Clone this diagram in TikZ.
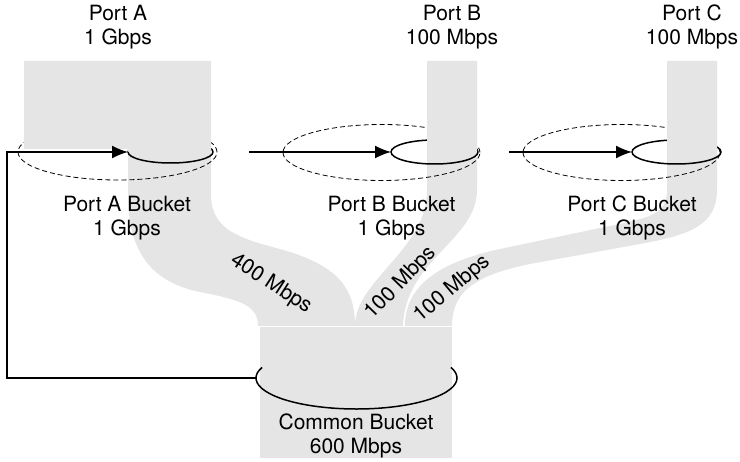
\documentclass[tikz,border=0pt]{standalone}
\usepackage{fontspec}
\setmainfont{TeX Gyre Heros}
\usepackage{tikz}
\usetikzlibrary{arrows.meta}
\tikzstyle{flow}       = [fill=black!10]
\tikzstyle{rim}        = [draw,line width=1.5]
\tikzstyle{outer rim}  = [draw,line width=0.8,dash pattern=on 5pt off 3pt]
\tikzstyle{label text} = [align=center,inner sep=0,font=\fontsize{21}{24}\selectfont]

\begin{document}
\begin{tikzpicture}[x=1pt,y=-1pt,
                    arrow/.style={line width=1.5,-{Latex[length=16pt,width=13pt]}}
                    ]
\useasboundingbox (0,0) rectangle (740,462);

    \coordinate (rimA) at (128,152);
    \coordinate (rimB) at (391,152);
    \coordinate (rimC) at (632,152);
    \coordinate (rimCommon) at (256,378);
    \coordinate (srcB) at (249,152);
    \coordinate (srcC) at (509,152);
    \coordinate (loop) at (7,152);

    % back halves of the buckets
    \draw[outer rim] (217,152) arc[start angle=0,end angle=-180,x radius=99.5,y radius=28];
    \draw[outer rim] (480,152.5) arc[start angle=0,end angle=-180,x radius=98.5,y radius=28];
    \draw[outer rim] (720,152.5) arc[start angle=0,end angle=-180,x radius=98.5,y radius=28];
    \draw[rim] (213,152) arc[start angle=0,end angle=-180,x radius=42.5,y radius=11];
    \draw[rim] (478,152) arc[start angle=0,end angle=-180,x radius=43.5,y radius=12];
    \draw[rim] (721,152) arc[start angle=0,end angle=-180,x radius=44.5,y radius=12];

    % traffic
    \fill[flow] (24,61) -- (211,61) -- (211,195) .. controls (211,235) and (250,240) .. (290,252)
        .. controls (340,268) and (355,290) .. (355,326) -- (258,326)
        .. controls (258,305) and (240,300) .. (200,292) .. controls (150,282) and (128,250) .. (128,195)
        -- (128,149) -- (24,149) -- cycle;
    \fill[flow] (427,61) -- (477,61) -- (477,190) .. controls (477,240) and (405,260) .. (403,326)
        -- (355,326) .. controls (355,280) and (427,250) .. (427,190) -- cycle;
    \fill[flow] (667,61) -- (717,61) -- (717,190) .. controls (717,225) and (690,235) .. (640,244)
        -- (530,264) .. controls (470,276) and (452,295) .. (452,326) -- (405,326)
        .. controls (405,285) and (440,262) .. (500,249) -- (600,228)
        .. controls (650,218) and (667,215) .. (667,190) -- cycle;
    \fill[flow] (260,327) rectangle (452,458);

    % front halves
    \draw[outer rim] (18,152) arc[start angle=180,end angle=0,x radius=99.5,y radius=28];
    \draw[outer rim] (283,152.5) arc[start angle=180,end angle=0,x radius=98.5,y radius=28];
    \draw[outer rim] (523,152.5) arc[start angle=180,end angle=0,x radius=98.5,y radius=28];
    \draw[rim] (rimA) arc[start angle=180,end angle=0,x radius=42.5,y radius=11];
    \draw[rim] (rimB) arc[start angle=180,end angle=0,x radius=43.5,y radius=12];
    \draw[rim] (rimC) arc[start angle=180,end angle=0,x radius=44.5,y radius=12];
    \draw[rim] (356.5,378) ++(200:100.5 and 31) arc[start angle=200,end angle=-20,x radius=100.5,y radius=31];

    \draw[arrow] (rimCommon) -| (loop) -- (rimA);
    \draw[arrow] (srcB) -- (rimB);
    \draw[arrow] (srcC) -- (rimC);

    \node[label text] (portA) at (118,26.7) {Port A\\1 Gbps};
    \node[label text] (portB) at (452,26.7) {Port B\\100 Mbps};
    \node[label text] (portC) at (692,26.7) {Port C\\100 Mbps};
    \node[label text] (bucketA) at (127,218.4) {Port A Bucket\\1 Gbps};
    \node[label text] (bucketB) at (391.5,218.4) {Port B Bucket\\1 Gbps};
    \node[label text] (bucketC) at (632,218.4) {Port C Bucket\\1 Gbps};
    \node[label text] (common) at (356,435.7) {Common Bucket\\600 Mbps};
    \node[label text, rotate=-33] (rateA) at (271,284) {400 Mbps};
    \node[label text, rotate=46] (rateB) at (401,283) {100 Mbps};
    \node[label text, rotate=40] (rateC) at (452,289) {100 Mbps};

\end{tikzpicture}
\end{document}
